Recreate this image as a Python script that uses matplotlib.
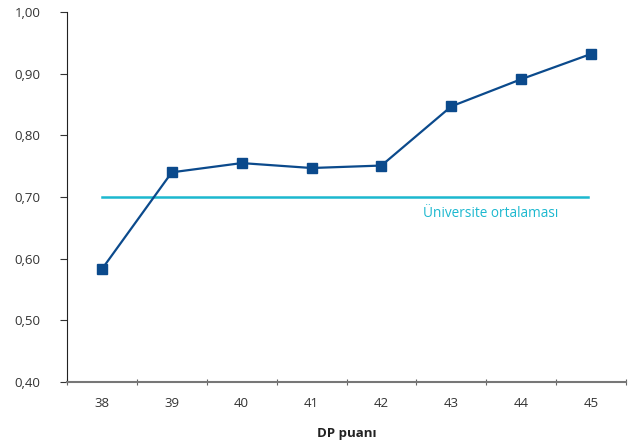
import matplotlib.pyplot as plt
from matplotlib.ticker import FuncFormatter

plt.rcParams["font.family"] = ["Open Sans", "DejaVu Sans"]

dp_scores = ["38", "39", "40", "41", "42", "43", "44", "45"]
ratio = [0.583, 0.740, 0.755, 0.747, 0.751, 0.847, 0.891, 0.932]
uni_mean = 0.70

dark_blue = "#0b4a8c"
cyan = "#1cb8cf"

fig = plt.figure(figsize=(6.3, 4.41), dpi=100)
ax = fig.add_axes([0.1063, 0.1338, 0.8874, 0.839])

x = list(range(len(dp_scores)))
ax.plot([x[0], x[-1] - 0.05], [uni_mean, uni_mean], color=cyan, lw=1.8, zorder=2)
ax.plot(x, ratio, color=dark_blue, lw=1.6, marker="s", markersize=7, zorder=3)
ax.text(5.57, uni_mean - 0.027, "Üniversite ortalaması", color=cyan,
        fontsize=9.8, ha="center", va="center")

ax.set_xlim(-0.5, len(dp_scores) - 0.5)
ax.set_ylim(0.40, 1.00)
ax.set_yticks([0.4, 0.5, 0.6, 0.7, 0.8, 0.9, 1.0])
ax.yaxis.set_major_formatter(FuncFormatter(lambda v, p: "{:.2f}".format(v).replace(".", ",")))

# category labels between the boundary ticks
ax.set_xticks([i - 0.5 for i in range(len(dp_scores) + 1)])
ax.set_xticklabels([])
ax.set_xticks(x, minor=True)
ax.set_xticklabels(dp_scores, minor=True)
ax.tick_params(axis="x", which="minor", length=0, pad=11)
ax.tick_params(axis="x", which="major", length=5, color="#666666", direction="inout")
ax.tick_params(axis="y", length=5, color="#333333", pad=14)
ax.tick_params(labelsize=9.5, labelcolor="#333333", which="both")

for s in ["top", "right"]:
    ax.spines[s].set_visible(False)
ax.spines["left"].set_color("#222222")
ax.spines["bottom"].set_color("#777777")
ax.spines["bottom"].set_linewidth(1.5)

ax.set_xlabel("DP puanı", fontsize=9.5, fontweight="bold", color="#222222", labelpad=12)

fig.savefig("out.png", dpi=100)
